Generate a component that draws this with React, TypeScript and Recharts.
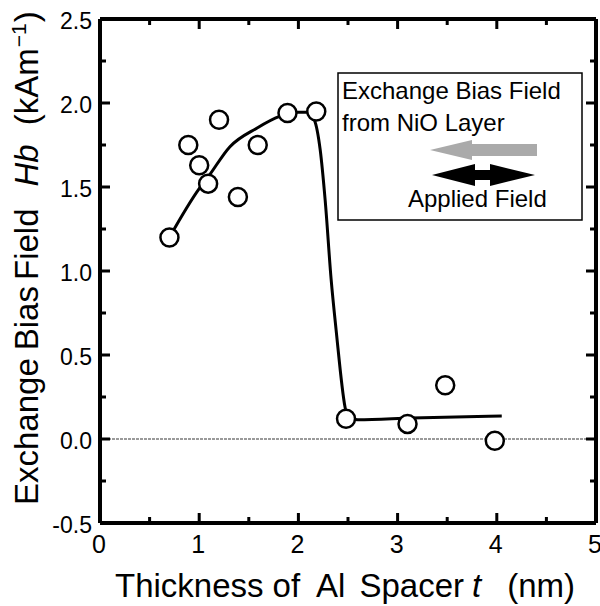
import React, { useEffect, useState } from 'react';
import { ComposedChart, Line, Scatter, XAxis, YAxis, ReferenceLine, Legend } from 'recharts';

// Measured points: Al spacer thickness (nm) vs exchange bias field (kA/m)
const thicknessNm = [0.70, 0.89, 1.00, 1.09, 1.20, 1.39, 1.59, 1.89, 2.18, 2.48, 3.10, 3.48, 3.98];
const biasField = [1.20, 1.75, 1.63, 1.52, 1.90, 1.44, 1.75, 1.94, 1.95, 0.12, 0.09, 0.32, -0.01];

// Guide-to-the-eye curve
const fitThickness = [0.70, 1.00, 1.09, 1.31, 1.58, 1.81, 1.98, 2.09, 2.16, 2.22, 2.27, 2.33, 2.38, 2.47, 2.50, 2.60, 3.14, 4.05];
const fitField = [1.20, 1.49, 1.56, 1.74, 1.85, 1.92, 1.945, 1.945, 1.90, 1.72, 1.42, 0.95, 0.65, 0.19, 0.12, 0.115, 0.125, 0.137];

const xTicks = [0, 0.5, 1, 1.5, 2, 2.5, 3, 3.5, 4, 4.5, 5];
const xMajorLabels = ['0', '1', '2', '3', '4', '5'];
const yTicks = [-0.5, -0.25, 0, 0.25, 0.5, 0.75, 1, 1.25, 1.5, 1.75, 2, 2.25, 2.5];
const yMajorLabels = ['-0.5', '0.0', '0.5', '1.0', '1.5', '2.0', '2.5'];

const points = thicknessNm.map((x, i) => ({ x, y: biasField[i] }));
const curve = fitThickness.map((x, i) => ({ x, y: fitField[i] }));

const FONT = "'Liberation Sans', Arial, Helvetica, sans-serif";

const isMajorX = (v: number) => Math.abs(v - Math.round(v)) < 1e-6;
const isMajorY = (v: number) => Math.abs(v * 2 - Math.round(v * 2)) < 1e-6;

const BottomTick = (p: any) => {
  const v = p.payload.value;
  const major = isMajorX(v);
  const len = major ? 10 : 6;
  return (
    <g>
      <rect x={p.x - 1.5} y={p.y - len} width={3} height={len} fill="#000" />
      <text x={p.x - 1} y={p.y + 30} textAnchor="middle" fontSize={25} fill="#000">
        {major ? xMajorLabels[Math.round(v)] : ''}
      </text>
    </g>
  );
};

const TopTick = (p: any) => {
  const len = isMajorX(p.payload.value) ? 10 : 6;
  return <rect x={p.x - 1.5} y={p.y} width={3} height={len} fill="#000" />;
};

const LeftTick = (p: any) => {
  const v = p.payload.value;
  const major = isMajorY(v);
  const len = major ? 10 : 6;
  const idx = Math.round((v + 0.5) * 2);
  return (
    <g>
      <rect x={p.x} y={p.y - 1.5} width={len} height={3} fill="#000" />
      <text x={p.x - 8} y={p.y + 10} textAnchor="end" fontSize={23} fill="#000">
        {major ? yMajorLabels[idx] : ''}
      </text>
    </g>
  );
};

const RightTick = (p: any) => {
  const len = isMajorY(p.payload.value) ? 10 : 6;
  return <rect x={p.x - len} y={p.y - 1.5} width={len} height={3} fill="#000" />;
};

const Circle = (p: any) => (
  <circle cx={p.cx} cy={p.cy} r={9} fill="#fff" stroke="#000" strokeWidth={2.5} />
);

const LegendBox = () => (
  <svg width={248} height={151} style={{ display: 'block' }}>
    <rect x={1} y={1} width={244} height={147} fill="#fff" stroke="#000" strokeWidth={1.5} />
    <text x={5} y={27} fontSize={24} fill="#000">Exchange Bias Field</text>
    <text x={5} y={59} fontSize={24} fill="#000">from NiO Layer</text>
    <polygon points="93,78 135,68 135,72 200,72 200,84 135,84 135,88" fill="#aaaaaa" />
    <polygon
      points="95,103 138,92 138,98 153,98 153,92 198,103 153,114 153,108 138,108 138,114"
      fill="#000"
    />
    <text x={71} y={135} fontSize={24} fill="#000">Applied Field</text>
  </svg>
);

const XTitle = () => (
  <text x={115} y={597} fontSize={33} fill="#000">
    Thickness
    <tspan dx={9}>of</tspan>
    <tspan dx={16}>Al</tspan>
    <tspan dx={14}>Spacer</tspan>
    <tspan dx={8} fontStyle="italic">t</tspan>
    <tspan dx={26}>(nm)</tspan>
  </text>
);

const YTitle = () => (
  <text transform="translate(38,505) rotate(-90)" x={0} y={0} fontSize={33} fill="#000">
    Exchange
    <tspan dx={8}>Bias</tspan>
    <tspan dx={6}>Field</tspan>
    <tspan dx={22} fontStyle="italic">Hb</tspan>
    <tspan dx={19}>(kAm</tspan>
    <tspan dx={1} dy={-12} fontSize={21}>{'\u22121'}</tspan>
    <tspan dx={1} dy={12}>)</tspan>
  </text>
);

const axisCommon: any = {
  type: 'number',
  interval: 0,
  allowDataOverflow: true,
  tickSize: 0,
  tickMargin: 0,
  tickLine: false,
  axisLine: true,
  stroke: '#000',
  strokeWidth: 4,
};

export default function App() {
  const [ready, setReady] = useState(false);
  useEffect(() => {
    let done = false;
    const go = () => {
      if (!done) {
        done = true;
        setReady(true);
      }
    };
    const fonts: any = (document as any).fonts;
    if (fonts && fonts.ready) fonts.ready.then(go, go);
    const t = setTimeout(go, 150);
    return () => clearTimeout(t);
  }, []);

  return (
    <div
      style={{
        position: 'absolute',
        left: 0,
        top: 0,
        width: 600,
        height: 606,
        background: '#fff',
        fontFamily: FONT,
      }}
    >
      <span style={{ position: 'absolute', left: 0, top: 0, visibility: 'hidden', fontSize: 24 }}>
        Exchange Bias Field 0123456789
      </span>
      {ready && (
        <ComposedChart width={600} height={606} margin={{ top: 0, right: 0, bottom: 0, left: 0 }}>
          <XAxis
            {...axisCommon}
            dataKey="x"
            domain={[0, 5]}
            ticks={xTicks}
            orientation="bottom"
            height={83}
            tick={BottomTick}
            label={{ content: XTitle }}
          />
          <XAxis
            {...axisCommon}
            xAxisId="top"
            dataKey="x"
            domain={[0, 5]}
            ticks={xTicks}
            orientation="top"
            height={19}
            tick={TopTick}
          />
          <YAxis
            {...axisCommon}
            dataKey="y"
            domain={[-0.5, 2.5]}
            ticks={yTicks}
            orientation="left"
            width={100}
            tick={LeftTick}
            label={{ content: YTitle }}
          />
          <YAxis
            {...axisCommon}
            yAxisId="right"
            dataKey="y"
            domain={[-0.5, 2.5]}
            ticks={yTicks}
            orientation="right"
            width={4}
            tick={RightTick}
          />
          <ReferenceLine y={0} stroke="#9a9a9a" strokeWidth={2} strokeDasharray="3 1" />
          <Line
            data={curve}
            dataKey="y"
            type="monotone"
            stroke="#000"
            strokeWidth={3}
            dot={false}
            activeDot={false}
            isAnimationActive={false}
          />
          <Scatter data={points} dataKey="y" shape={Circle} isAnimationActive={false} />
          <Legend
            layout="vertical"
            align="center"
            verticalAlign="middle"
            content={LegendBox}
            wrapperStyle={{ position: 'absolute', left: 337, top: 72, width: 248, height: 151 }}
          />
        </ComposedChart>
      )}
    </div>
  );
}
